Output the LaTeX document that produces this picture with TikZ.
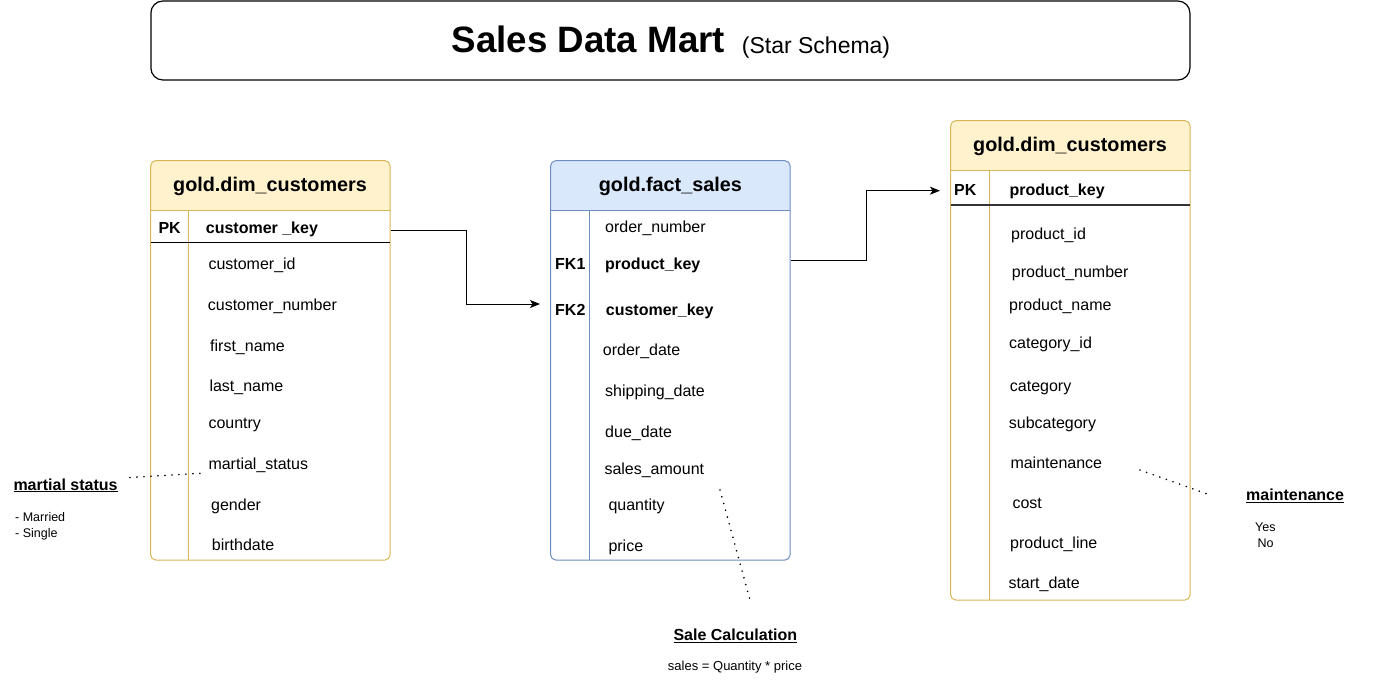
\documentclass[tikz,border=0pt]{standalone}
\usepackage{fontspec}
\setmainfont{Liberation Sans}
\usetikzlibrary{arrows.meta}
\definecolor{yfill}{HTML}{FFF2CC}
\definecolor{ybord}{HTML}{D6B656}
\definecolor{bfill}{HTML}{DAE8FC}
\definecolor{bbord}{HTML}{6C8EBF}
\begin{document}
\begin{tikzpicture}[x=1pt,y=-1pt,
  fld/.style={anchor=base west, inner sep=0pt, font=\fontsize{16}{18}\selectfont},
  fldb/.style={anchor=base west, inner sep=0pt, font=\fontsize{16}{18}\selectfont\bfseries},
  hdr/.style={anchor=base, inner sep=0pt, font=\fontsize{19.8}{22}\selectfont\bfseries},
  tbl/.style={rounded corners=5pt, line width=1pt, minimum width=239.3pt, inner sep=0pt},
  conn/.style={line width=1pt, -{Stealth[length=10pt,width=8pt,inset=2.5pt]}},
  dots/.style={line width=1.8pt, dash pattern=on 0pt off 7pt, line cap=round},
  note/.style={anchor=base west, inner sep=0pt, font=\fontsize{16}{18}\selectfont\bfseries},
  small/.style={anchor=base west, inner sep=0pt, font=\fontsize{12.5}{14}\selectfont}]
\useasboundingbox (0,0) rectangle (1380,681);

% title
\node[draw, line width=1.2pt, rounded corners=12pt, minimum width=1039pt, minimum height=79pt, inner sep=0pt] (title) at (670.4,40.5) {};
\node[anchor=base west, inner sep=0pt, font=\fontsize{36.7}{40}\selectfont\bfseries] (ttl) at (451.5,52) {Sales Data Mart};
\node[anchor=base west, inner sep=0pt, font=\fontsize{23}{26}\selectfont] (sub) at (741.7,53) {(Star Schema)};

% ---------- left table ----------
\fill[yfill] (150.7,210.7) [rounded corners=5pt] -- (150.7,160.7) -- (390,160.7) [sharp corners] -- (390,210.7) -- cycle;
\node[tbl, draw=ybord, minimum height=399.3pt] (ltab) at (270.35,360.35) {};
\draw[ybord, line width=1pt] (150.7,210.7) -- (390,210.7);
\draw[ybord, line width=1pt] (188.7,210.7) -- (188.7,560);
\draw[black, line width=1.3pt] (150.7,242.3) -- (390,242.3);
\node[hdr] (lhdr) at (270,191.7) {gold.dim\_customers};
\node[fldb] (lpk) at (158.3,233.3) {PK};
\node[fldb] (lkey) at (205.7,233.3) {customer \_key};
\node[fld] (l1) at (208.3,269) {customer\_id};
\node[fld] (l2) at (207.7,310) {customer\_number};
\node[fld] (l3) at (210,351) {first\_name};
\node[fld] (l4) at (209.3,391.7) {last\_name};
\node[fld] (l5) at (208.3,428.3) {country};
\node[fld] (l6) at (208.3,469) {martial\_status};
\node[fld] (l7) at (211,510) {gender};
\node[fld] (l8) at (211.7,550) {birthdate};

% ---------- middle table ----------
\fill[bfill] (550.7,210.7) [rounded corners=5pt] -- (550.7,160.7) -- (790,160.7) [sharp corners] -- (790,210.7) -- cycle;
\node[tbl, draw=bbord, minimum height=399.3pt] (mtab) at (670.35,360.35) {};
\draw[bbord, line width=1pt] (550.7,210.7) -- (790,210.7);
\draw[bbord, line width=1pt] (589,210.7) -- (589,560);
\node[hdr] (mhdr) at (670.35,191.7) {gold.fact\_sales};
\node[fld] (m1) at (605,232.7) {order\_number};
\node[fldb] (fk1) at (555,269) {FK1};
\node[fldb] (m2) at (605,269) {product\_key};
\node[fldb] (fk2) at (555,315.7) {FK2};
\node[fldb] (m3) at (605.7,315.7) {customer\_key};
\node[fld] (m4) at (602.7,355.7) {order\_date};
\node[fld] (m5) at (605,396) {shipping\_date};
\node[fld] (m6) at (605,437.3) {due\_date};
\node[fld] (m7) at (604.3,474) {sales\_amount};
\node[fld] (m8) at (608.3,510) {quantity};
\node[fld] (m9) at (608.3,551) {price};

% ---------- right table ----------
\fill[yfill] (950.7,170.7) [rounded corners=5pt] -- (950.7,120.7) -- (1190,120.7) [sharp corners] -- (1190,170.7) -- cycle;
\node[tbl, draw=ybord, minimum height=479.3pt] (rtab) at (1070.35,360.35) {};
\draw[ybord, line width=1pt] (950.7,170.7) -- (1190,170.7);
\draw[ybord, line width=1pt] (989.5,170.7) -- (989.5,600);
\draw[black!80, line width=1.3pt] (950.7,205) -- (1190,205);
\node[hdr] (rhdr) at (1070,151.7) {gold.dim\_customers};
\node[fldb] (rpk) at (954,195) {PK};
\node[fldb] (rkey) at (1009.3,195) {product\_key};
\node[fld] (r1) at (1011,239) {product\_id};
\node[fld] (r2) at (1011.7,277.7) {product\_number};
\node[fld] (r3) at (1009,310) {product\_name};
\node[fld] (r4) at (1009,348.3) {category\_id};
\node[fld] (r5) at (1009.7,391) {category};
\node[fld] (r6) at (1008.7,428.3) {subcategory};
\node[fld] (r7) at (1010.3,468.3) {maintenance};
\node[fld] (r8) at (1012.3,508.3) {cost};
\node[fld] (r9) at (1010,548.3) {product\_line};
\node[fld] (r10) at (1008.3,588.3) {start\_date};

% ---------- connectors ----------
\coordinate (c1s) at (ltab.east |- 0,230.7);
\coordinate (c1e) at (540,304);
\draw[conn] (c1s) -- (466.7,230.7) -- (466.7,304) -- (c1e);
\coordinate (c2s) at (mtab.east |- 0,260);
\coordinate (c2e) at (940,190.7);
\draw[conn] (c2s) -- (866.7,260) -- (866.7,190.7) -- (c2e);

% ---------- notes ----------
\node[note] (ms) at (13.3,490) {\underline{martial status}};
\node[small] (ms1) at (15,521.7) {- Married};
\node[small] (ms2) at (15,537.7) {- Single};
\coordinate (d1a) at (130,477.5);
\coordinate (d1b) at (205,473);
\draw[dots] (d1a) -- (d1b);

\node[note] (mn) at (1246,500.7) {\underline{maintenance}};
\node[small] (mn1) at (1255,531.7) {Yes};
\node[small] (mn2) at (1257.3,547.7) {No};
\coordinate (d2a) at (1140,470);
\coordinate (d2b) at (1210,495);
\draw[dots] (d2a) -- (d2b);

\node[note, anchor=base] (sc) at (735.3,640.7) {\underline{Sale Calculation}};
\node[anchor=base, inner sep=0pt, font=\fontsize{13}{15}\selectfont] (sc1) at (735,670) {sales = Quantity * price};
\coordinate (d3a) at (720,490);
\coordinate (d3b) at (750,600);
\draw[dots] (d3a) -- (d3b);
\end{tikzpicture}
\end{document}
